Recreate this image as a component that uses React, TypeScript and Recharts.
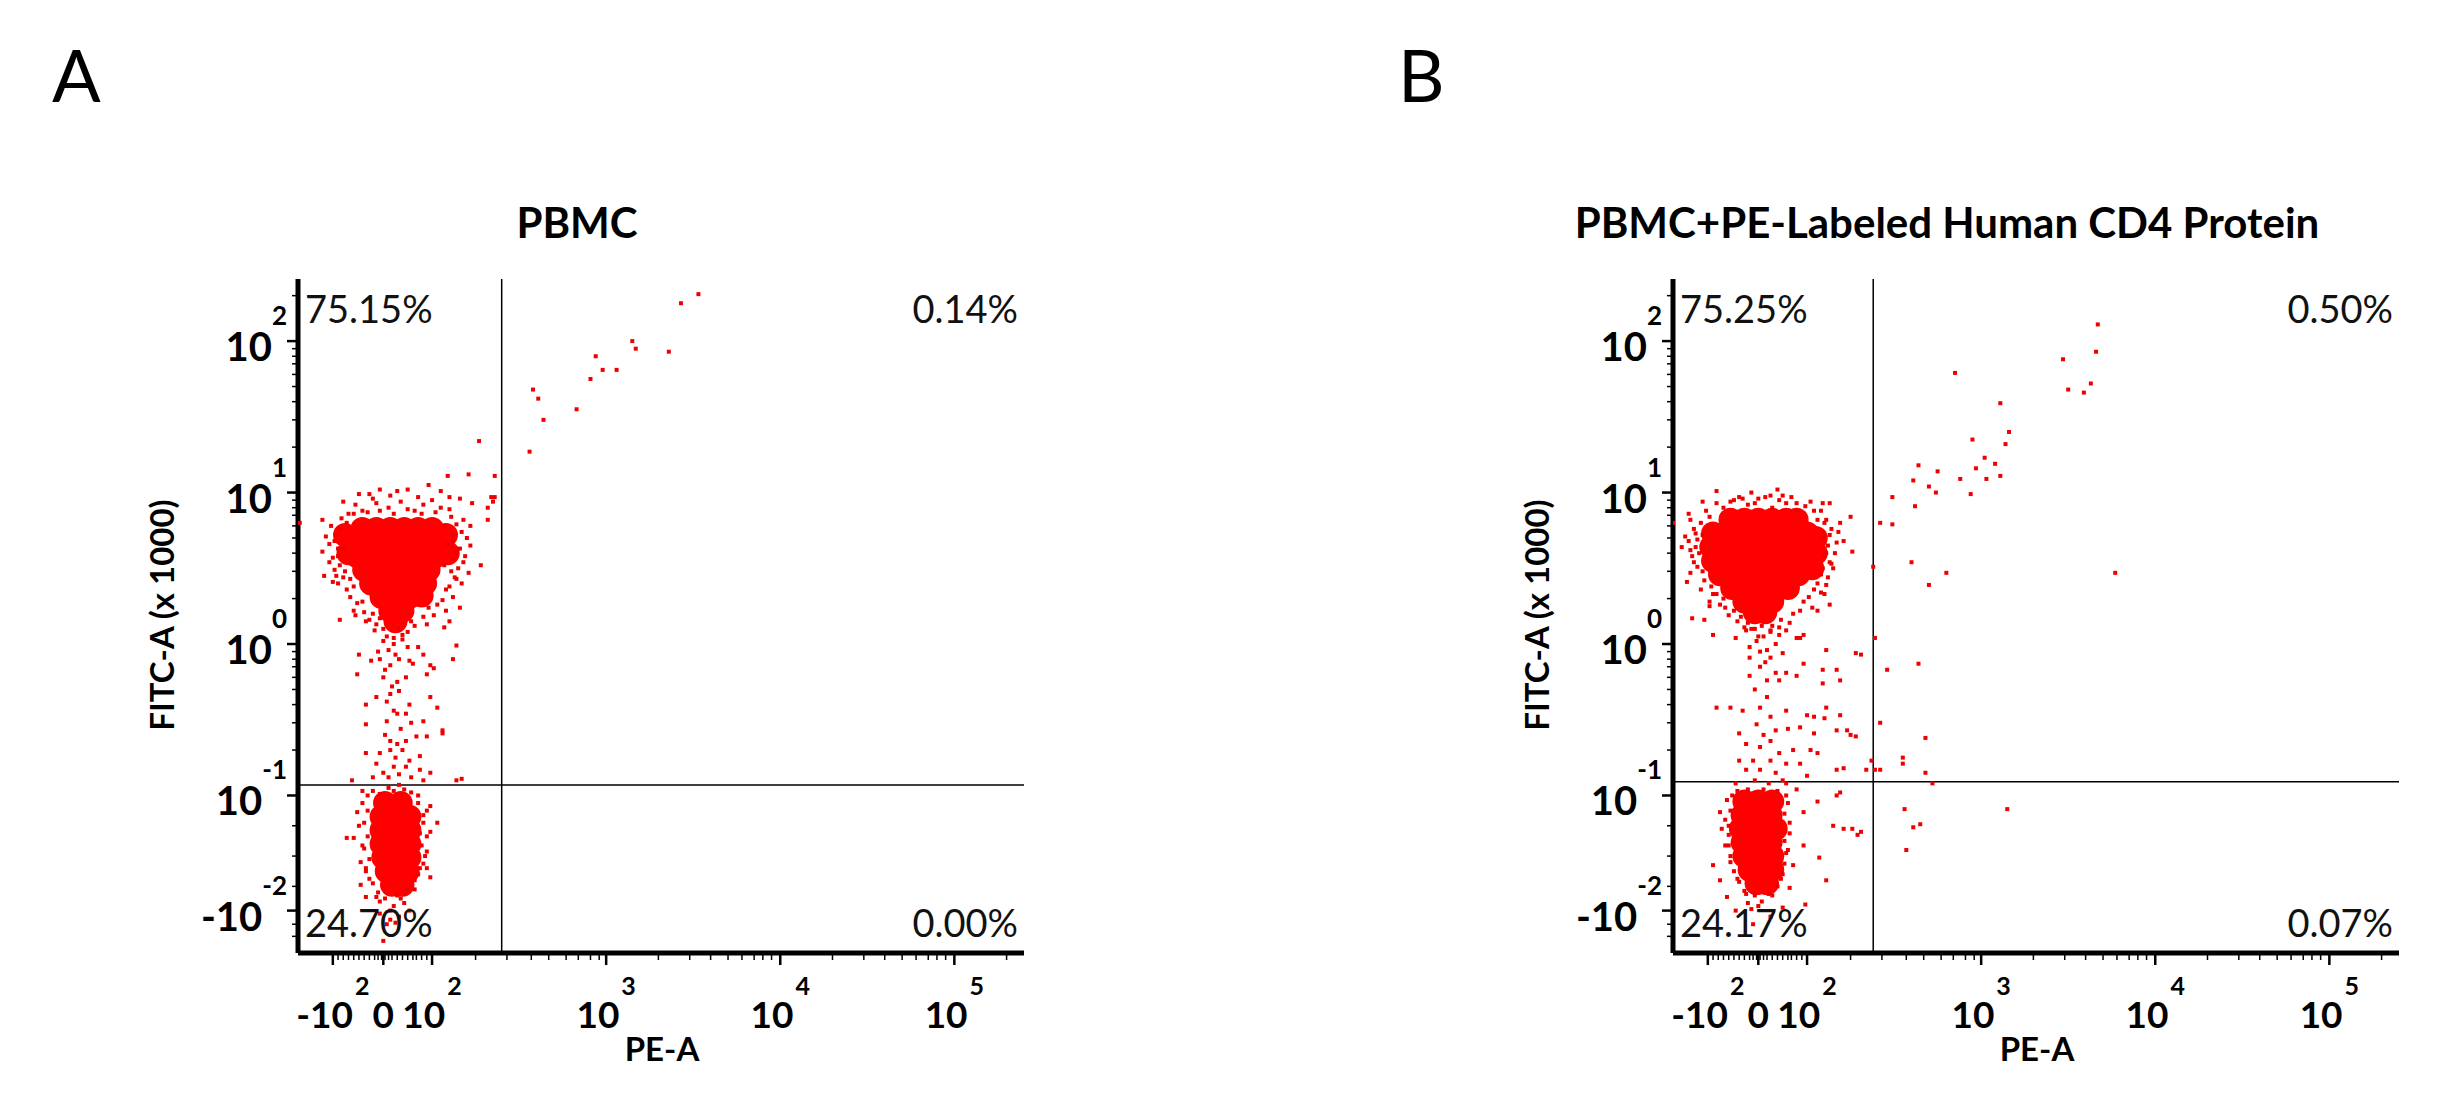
import React from "react";
import { ScatterChart, Scatter, XAxis, YAxis, ReferenceLine } from "recharts";

const FONT = "Lato, 'Open Sans', sans-serif";

// Axis positions are in display units: one unit per decade, with the
// linear (biexponential) region around zero squeezed in below 10^2 / 10^-1.
const xMajorTicks = [1.43, 1.72, 2, 3, 4, 5];
const xMajorLabels = [["-10", "2"], ["0", ""], ["10", "2"], ["10", "3"], ["10", "4"], ["10", "5"]];
const xMinorTicks = [
  1.46, 1.49, 1.52, 1.55, 1.58, 1.61, 1.64, 1.67, 1.69, 1.71, 1.73, 1.75, 1.77, 1.8, 1.83, 1.86, 1.89, 1.91, 1.94, 1.97,
  2.25, 2.43, 2.57, 2.67, 2.77, 2.84, 2.91, 2.96,
  3.3, 3.48, 3.6, 3.7, 3.78, 3.85, 3.9, 3.95,
  4.3, 4.48, 4.6, 4.7, 4.78, 4.85, 4.9, 4.95,
  5.3,
];
const yMajorTicks = [2, 1, 0, -1, -1.76];
const yMajorLabels = [["10", "2"], ["10", "1"], ["10", "0"], ["10", "-1"], ["-10", "-2"]];
const yMinorTicks = [
  2.3,
  1.3, 1.48, 1.6, 1.7, 1.78, 1.85, 1.9, 1.95,
  0.3, 0.48, 0.6, 0.7, 0.78, 0.85, 0.9, 0.95,
  -0.7, -0.52, -0.4, -0.3, -0.22, -0.15, -0.1, -0.05,
  -1.2, -1.4, -1.6, -1.85, -1.93,
];

const panels = ["A", "B"];
const titles = ["PBMC", "PBMC+PE-Labeled Human CD4 Protein"];
// quadrant percentages: upper-left, upper-right, lower-left, lower-right
const quadrantPct = [
  ["75.15%", "0.14%", "24.70%", "0.00%"],
  ["75.25%", "0.50%", "24.17%", "0.07%"],
];
const gateX = [2.4, 2.38];
const gateY = [-0.93, -0.91];

// ---- Panel A events ----
const aUpperCore = [
  [1.6, 0.76], [1.68, 0.76], [1.76, 0.76], [1.84, 0.76], [1.92, 0.76], [2.0, 0.76],
  [1.55, 0.67], [1.63, 0.67], [1.71, 0.67], [1.79, 0.67], [1.87, 0.67], [1.95, 0.67], [2.03, 0.67],
  [1.57, 0.58], [1.65, 0.58], [1.73, 0.58], [1.81, 0.58], [1.89, 0.58], [1.97, 0.58], [2.02, 0.58],
  [1.61, 0.49], [1.69, 0.49], [1.77, 0.49], [1.85, 0.49], [1.93, 0.49], [1.98, 0.49],
  [1.65, 0.4], [1.73, 0.4], [1.81, 0.4], [1.89, 0.4], [1.96, 0.4],
  [1.71, 0.31], [1.79, 0.31], [1.87, 0.31],
  [1.76, 0.22], [1.83, 0.22],
  [1.79, 0.15],
  [2.08, 0.72], [2.09, 0.6], [1.5, 0.72], [1.52, 0.6], [1.94, 0.32],
];
const aLowerCore = [
  [1.73, -1.05], [1.82, -1.05],
  [1.71, -1.14], [1.79, -1.14], [1.87, -1.14],
  [1.71, -1.23], [1.79, -1.23], [1.87, -1.23],
  [1.71, -1.32], [1.79, -1.32], [1.87, -1.32],
  [1.72, -1.41], [1.8, -1.41], [1.87, -1.41],
  [1.74, -1.5], [1.81, -1.5], [1.86, -1.5],
  [1.77, -1.59], [1.83, -1.59],
];
const aDots = [
  // upper right quadrant
  [3.53, 2.31], [3.43, 2.25], [3.15, 2.0], [3.17, 1.95], [3.36, 1.93], [2.94, 1.9], [2.98, 1.81], [3.06, 1.81],
  [2.91, 1.75], [2.58, 1.68], [2.61, 1.62], [2.83, 1.55], [2.64, 1.48], [2.56, 1.27], [2.27, 1.34], [2.36, 1.11],
  [2.21, 1.12], [2.09, 1.11], [2.36, 0.97], [2.32, 0.9],
  // halo of the upper population
  [1.49, 0.94], [1.64, 0.99], [1.7, 1.02], [1.8, 1.01], [1.86, 1.02], [1.98, 1.05], [2.05, 1.01], [2.1, 0.97],
  [2.16, 0.96], [2.23, 0.93], [2.35, 0.94], [2.34, 0.97], [1.37, 0.82], [1.39, 0.71], [1.37, 0.61], [1.38, 0.45],
  [1.43, 0.41], [1.47, 0.16], [1.56, 0.19], [1.62, 0.15], [2.1, 0.89], [2.18, 0.82], [2.22, 0.65], [2.18, 0.54],
  [2.28, 0.52], [2.16, 0.24], [2.14, 0.43], [2.07, 0.11], [2.1, 0.15], [2.22, 0.78], [1.41, 0.54], [1.45, 0.45],
  [2.32, 0.82], [1.24, 0.8],
  [1.52, 0.86], [1.6, 0.88], [1.75, 0.9], [1.9, 0.88], [2.02, 0.87], [2.12, 0.72], [2.13, 0.6], [2.11, 0.48],
  [2.08, 0.36], [2.03, 0.26], [1.95, 0.18], [1.44, 0.68], [1.46, 0.58], [1.5, 0.48], [1.55, 0.38], [1.6, 0.28],
  [1.66, 0.2], [1.72, 0.1], [1.86, 0.08], [1.9, 0.12], [1.56, 0.92], [1.68, 0.93], [1.82, 0.94], [1.95, 0.92],
  [1.47, 0.76], [1.49, 0.63], [2.07, 0.78], [2.09, 0.66], [2.07, 0.52], [1.53, 0.43], [1.98, 0.24], [1.68, 0.13],
  [1.42, 0.78], [1.45, 0.72], [1.41, 0.66], [1.46, 0.63], [1.43, 0.57], [1.47, 0.52], [1.44, 0.49], [1.49, 0.44],
  [1.46, 0.4], [1.51, 0.36], [1.53, 0.31], [1.57, 0.27], [1.55, 0.22], [1.61, 0.21], [1.64, 0.16], [1.67, 0.09],
  [1.48, 0.83], [1.51, 0.8], [2.11, 0.84], [2.14, 0.79], [2.17, 0.74], [2.12, 0.68], [2.16, 0.63], [2.19, 0.58],
  [2.12, 0.56], [2.15, 0.5], [2.13, 0.44], [2.17, 0.4], [2.1, 0.38], [2.12, 0.31], [2.06, 0.29], [2.08, 0.22],
  [2.01, 0.19], [1.97, 0.13], [2.2, 0.7], [2.21, 0.47], [1.55, 0.86], [1.63, 0.87], [1.7, 0.88], [1.78, 0.86],
  [1.86, 0.89], [1.94, 0.86], [2.05, 0.9], [1.66, 0.96], [1.76, 0.98], [1.92, 0.97], [2.0, 0.95], [1.58, 0.99],
  [1.74, 0.05], [1.83, 0.06], [1.78, 0.04], [1.88, 0.15], [1.7, 0.17], [1.81, 0.1],
  // tail between the populations
  [1.58, -0.07], [1.65, -0.11], [1.69, -0.05], [1.76, -0.14], [1.81, -0.1], [1.87, -0.11], [1.89, -0.13], [1.95, -0.07],
  [1.99, -0.14], [2.14, -0.01], [2.12, -0.1], [1.57, -0.2], [1.72, -0.22], [1.8, -0.25], [1.85, -0.22], [1.97, -0.2],
  [2.01, -0.16], [1.68, -0.35], [1.76, -0.33], [1.81, -0.31], [1.87, -0.4], [1.99, -0.35], [2.03, -0.42], [1.62, -0.4],
  [1.78, -0.44], [1.8, -0.46], [1.85, -0.46], [1.74, -0.51], [1.95, -0.51], [1.62, -0.53], [2.06, -0.57], [2.06, -0.59],
  [1.76, -0.64], [1.8, -0.66], [1.85, -0.64], [1.91, -0.61], [1.97, -0.61], [1.7, -0.72], [1.76, -0.7], [1.83, -0.7],
  [1.87, -0.77], [1.93, -0.74], [1.62, -0.72], [1.68, -0.79], [1.78, -0.81], [1.85, -0.81], [1.93, -0.83], [1.72, -0.85],
  [1.81, -0.86], [1.99, -0.85], [2.14, -0.9], [1.54, -0.9], [1.81, -0.93],
  [1.72, 0.02], [1.78, 0.0], [1.83, 0.03], [1.75, -0.04], [1.86, -0.02], [1.7, -0.1], [1.79, -0.07], [1.92, -0.02],
  [1.73, -0.17], [1.77, -0.28], [1.74, -0.38], [1.82, -0.56], [1.88, -0.52], [1.73, -0.6], [1.79, -0.75], [1.75, -0.88],
  [1.88, -0.88], [1.66, -0.88], [1.95, -0.9], [2.17, -0.89],
  // halo of the lower population
  [1.51, -1.28], [1.55, -1.28], [1.57, -1.11], [1.58, -1.2], [1.59, -1.44], [1.59, -1.59], [1.62, -1.67], [1.99, -1.07],
  [2.03, -1.18], [1.99, -1.24], [1.97, -1.37], [1.97, -1.48], [1.99, -1.54], [1.7, -1.78], [1.76, -1.82], [1.81, -1.8],
  [1.72, -1.96], [1.87, -1.76], [1.66, -0.97], [1.75, -0.95], [1.84, -0.96], [1.92, -1.0], [1.6, -1.05], [1.95, -1.13],
  [1.61, -1.35], [1.95, -1.45], [1.64, -1.55], [1.9, -1.62], [1.68, -1.67], [1.84, -1.71], [1.78, -1.73], [1.74, -1.85],
  [1.63, -1.0], [1.93, -1.25], [1.62, -1.48], [1.92, -1.52], [1.7, -1.7], [1.8, -1.66],
  [1.6, -0.97], [1.63, -1.1], [1.61, -1.18], [1.63, -1.27], [1.6, -1.33], [1.64, -1.42], [1.62, -1.5], [1.66, -1.58],
  [1.69, -1.64], [1.73, -1.68], [1.82, -1.68], [1.86, -1.62], [1.9, -1.56], [1.93, -1.48], [1.96, -1.4], [1.94, -1.33],
  [1.97, -1.27], [1.95, -1.18], [1.97, -1.1], [1.92, -1.05], [1.88, -0.98], [1.78, -0.97], [1.7, -0.99], [1.76, -1.76],
  [1.79, -1.84],
];

// ---- Panel B events ----
const bUpperCore = [
  [1.56, 0.82], [1.64, 0.82], [1.72, 0.82], [1.8, 0.82], [1.88, 0.82], [1.94, 0.82],
  [1.46, 0.73], [1.54, 0.73], [1.62, 0.73], [1.7, 0.73], [1.78, 0.73], [1.86, 0.73], [1.94, 0.73], [2.0, 0.73],
  [1.45, 0.64], [1.53, 0.64], [1.61, 0.64], [1.69, 0.64], [1.77, 0.64], [1.85, 0.64], [1.93, 0.64], [2.01, 0.64],
  [1.46, 0.55], [1.54, 0.55], [1.62, 0.55], [1.7, 0.55], [1.78, 0.55], [1.86, 0.55], [1.94, 0.55], [1.99, 0.55],
  [1.5, 0.46], [1.58, 0.46], [1.66, 0.46], [1.74, 0.46], [1.82, 0.46], [1.9, 0.46], [1.95, 0.46],
  [1.57, 0.37], [1.65, 0.37], [1.73, 0.37], [1.81, 0.37], [1.89, 0.37],
  [1.64, 0.28], [1.72, 0.28], [1.8, 0.28],
  [1.7, 0.21], [1.76, 0.21],
  [2.05, 0.7], [2.05, 0.6], [2.03, 0.5],
];
const bLowerCore = [
  [1.64, -1.04], [1.72, -1.04], [1.8, -1.04],
  [1.63, -1.13], [1.71, -1.13], [1.79, -1.13],
  [1.62, -1.22], [1.7, -1.22], [1.78, -1.22], [1.82, -1.22],
  [1.63, -1.31], [1.71, -1.31], [1.79, -1.31],
  [1.64, -1.4], [1.72, -1.4], [1.8, -1.4],
  [1.67, -1.49], [1.75, -1.49], [1.8, -1.49],
  [1.71, -1.58], [1.77, -1.58],
];
const bDots = [
  // events right of the PE gate
  [3.67, 2.11], [3.66, 1.93], [3.47, 1.88], [3.63, 1.72], [3.5, 1.68], [3.59, 1.66], [2.85, 1.79], [3.11, 1.59],
  [3.16, 1.4], [2.95, 1.35], [3.14, 1.32], [3.02, 1.23], [3.08, 1.19], [2.97, 1.16], [2.64, 1.18], [2.75, 1.14],
  [2.61, 1.08], [2.88, 1.09], [3.03, 1.09], [3.11, 1.11], [2.7, 1.04], [2.74, 1.0], [2.94, 0.99], [2.49, 0.97],
  [2.62, 0.91], [2.42, 0.8], [2.49, 0.79], [2.6, 0.54], [2.7, 0.39], [2.8, 0.47], [3.77, 0.47], [2.38, 0.51],
  [2.39, 0.04], [2.31, -0.07], [2.46, -0.17], [2.64, -0.13], [2.42, -0.52], [2.68, -0.62], [2.55, -0.75], [2.55, -0.79],
  [2.37, -0.77], [2.39, -0.83], [2.68, -0.85], [2.72, -0.92], [2.42, -0.83], [2.56, -1.09], [3.15, -1.09], [2.65, -1.19],
  [2.61, -1.21], [2.57, -1.36], [2.26, -1.22], [2.31, -1.24], [2.21, -0.82], [2.28, -0.61], [2.23, -0.57], [2.19, -0.47],
  [2.1, -0.49],
  // tail
  [1.46, 0.06], [1.59, 0.04], [1.65, 0.09], [1.71, 0.02], [1.79, 0.09], [1.84, 0.06], [1.88, 0.09], [1.94, 0.04],
  [1.98, 0.06], [1.67, -0.02], [1.77, -0.04], [1.82, 0.0], [1.86, -0.06], [1.96, 0.04], [2.11, -0.04], [2.28, -0.06],
  [1.67, -0.09], [1.79, -0.09], [1.73, -0.15], [1.82, -0.19], [1.88, -0.19], [1.98, -0.13], [1.67, -0.21], [1.77, -0.24],
  [1.84, -0.24], [1.94, -0.21], [2.09, -0.17], [2.17, -0.17], [2.19, -0.24], [2.09, -0.26], [1.48, -0.42], [1.56, -0.42],
  [1.63, -0.44], [1.73, -0.42], [1.79, -0.48], [1.88, -0.44], [2.0, -0.47], [2.04, -0.48], [2.11, -0.42], [1.71, -0.53],
  [1.82, -0.57], [1.89, -0.56], [1.96, -0.55], [2.04, -0.59], [2.17, -0.57], [2.25, -0.6], [1.61, -0.59], [1.65, -0.66],
  [1.73, -0.68], [1.79, -0.64], [1.84, -0.72], [1.92, -0.7], [2.02, -0.7], [2.06, -0.72], [1.61, -0.77], [1.69, -0.77],
  [1.79, -0.77], [1.88, -0.79], [1.96, -0.79], [2.17, -0.83], [2.34, -0.83], [1.65, -0.83], [1.73, -0.83], [1.82, -0.85],
  [2.0, -0.87], [1.7, 0.1], [1.75, 0.05], [1.8, 0.12], [1.73, -0.05], [1.76, -0.12], [1.7, -0.3], [1.77, -0.35],
  [1.75, -0.6], [1.7, -0.9], [1.78, -0.92], [1.86, -0.9],
  // halo of the upper population
  [1.48, 1.01], [1.4, 0.94], [1.32, 0.86], [1.28, 0.64], [1.31, 0.41], [1.34, 0.17], [1.41, 0.16], [1.23, 0.8],
  [1.61, 0.97], [1.79, 0.98], [1.86, 0.98], [1.94, 0.93], [2.02, 0.94], [2.13, 0.93], [2.19, 0.8], [2.25, 0.84],
  [2.11, 0.82], [2.17, 0.67], [2.26, 0.61], [2.13, 0.54], [2.15, 0.5], [2.11, 0.39], [2.13, 0.26], [2.06, 0.22],
  [1.44, 0.28], [1.53, 0.24], [1.37, 0.69], [1.35, 0.54],
  [1.44, 0.84], [1.52, 0.9], [1.66, 0.92], [1.8, 0.9], [1.94, 0.88], [2.06, 0.82], [2.09, 0.7], [2.1, 0.58],
  [2.08, 0.46], [2.04, 0.36], [1.98, 0.28], [1.4, 0.72], [1.38, 0.6], [1.4, 0.48], [1.45, 0.38], [1.52, 0.3],
  [1.58, 0.22], [1.66, 0.14], [1.85, 0.16], [1.92, 0.2], [1.58, 0.95], [1.72, 0.96], [1.88, 0.93], [2.04, 0.88],
  [1.35, 0.76], [1.33, 0.62], [2.13, 0.72], [2.1, 0.33], [1.48, 0.33], [1.62, 0.18],
  [1.33, 0.82], [1.36, 0.73], [1.32, 0.68], [1.36, 0.64], [1.34, 0.58], [1.37, 0.51], [1.33, 0.47], [1.41, 0.42],
  [1.39, 0.36], [1.46, 0.33], [1.44, 0.25], [1.5, 0.26], [1.55, 0.19], [1.6, 0.15], [1.64, 0.11], [1.39, 0.8],
  [1.42, 0.88], [1.3, 0.71], [2.08, 0.88], [2.1, 0.8], [2.14, 0.76], [2.09, 0.74], [2.12, 0.65], [2.16, 0.6],
  [2.11, 0.6], [2.14, 0.53], [2.09, 0.5], [2.12, 0.44], [2.06, 0.4], [2.08, 0.34], [2.01, 0.31], [2.03, 0.24],
  [1.96, 0.22], [1.9, 0.14], [2.18, 0.74], [2.21, 0.68], [1.48, 0.93], [1.56, 0.94], [1.63, 0.96], [1.7, 0.93],
  [1.76, 0.97], [1.84, 0.95], [1.91, 0.97], [1.99, 0.91], [2.09, 0.93], [1.68, 1.0], [1.83, 1.02], [1.68, 0.1],
  [1.74, 0.12], [1.79, 0.08], [1.72, 0.05], [1.84, 0.11],
  // halo of the lower population
  [1.5, -1.11], [1.46, -1.46], [1.5, -1.56], [1.54, -1.67], [1.59, -1.76], [1.69, -1.85], [1.79, -1.8], [1.86, -1.74],
  [1.99, -1.72], [2.11, -1.56], [2.07, -1.41], [1.98, -1.33], [2.15, -1.2], [2.21, -1.22], [2.29, -1.26], [2.06, -1.04],
  [1.98, -1.11], [1.92, -1.46], [1.9, -1.61], [1.55, -1.33], [1.51, -1.22], [2.17, -1.0], [2.19, -0.98], [1.59, -0.92],
  [1.88, -0.92], [1.94, -0.96], [1.57, -1.0], [1.89, -1.05], [1.55, -1.2], [1.9, -1.25], [1.56, -1.4], [1.88, -1.38],
  [1.6, -1.55], [1.85, -1.55], [1.65, -1.65], [1.8, -1.66], [1.74, -1.7], [1.68, -1.75],
  [1.54, -1.03], [1.56, -1.1], [1.53, -1.16], [1.55, -1.26], [1.53, -1.33], [1.56, -1.44], [1.58, -1.5], [1.61, -1.57],
  [1.64, -1.63], [1.7, -1.66], [1.78, -1.65], [1.83, -1.6], [1.86, -1.52], [1.87, -1.45], [1.89, -1.36], [1.87, -1.3],
  [1.9, -1.18], [1.87, -1.12], [1.88, -1.0], [1.83, -0.97], [1.75, -0.96], [1.66, -0.96], [1.6, -0.97], [1.72, -1.73],
  [1.66, -1.71],
];

const cores = [[aUpperCore, aLowerCore], [bUpperCore, bLowerCore]];
const dots = [aDots, bDots];

const toPoints = (list: number[][]) => list.map(([x, y]) => ({ x, y }));

const xTicks = [...xMajorTicks, ...xMinorTicks];
const yTicks = [...yMajorTicks, ...yMinorTicks];

function XTick(props: any) {
  const { x, y, payload } = props;
  const i = xMajorTicks.indexOf(payload.value);
  const major = i >= 0;
  return (
    <g>
      <line x1={x} y1={y} x2={x} y2={y + (major ? 12 : 7)} stroke="#000" strokeWidth={major ? 2.5 : 1.5} />
      {major && (
        <text x={x} y={y + 75} textAnchor="middle" fontFamily={FONT} fontWeight={700} fill="#000">
          <tspan fontSize={37}>{xMajorLabels[i][0]}</tspan>
          {xMajorLabels[i][1] !== "" && (
            <tspan fontSize={25} dy={-33} dx={2}>
              {xMajorLabels[i][1]}
            </tspan>
          )}
        </text>
      )}
    </g>
  );
}

function YTick(props: any) {
  const { x, y, payload } = props;
  const i = yMajorTicks.indexOf(payload.value);
  const major = i >= 0;
  return (
    <g>
      <line x1={x} y1={y} x2={x - (major ? 11 : 6)} y2={y} stroke="#000" strokeWidth={major ? 2.5 : 1.5} />
      {major && (
        <text x={x - 11} y={y + 20} textAnchor="end" fontFamily={FONT} fontWeight={700} fill="#000">
          <tspan fontSize={40}>{yMajorLabels[i][0]}</tspan>
          <tspan fontSize={26} dy={-36}>
            {yMajorLabels[i][1]}
          </tspan>
        </text>
      )}
    </g>
  );
}

const EventDot = (p: any) => <rect x={p.cx - 2} y={p.cy - 2} width={4} height={4} fill="#ee0000" />;
const CoreDot = (p: any) => <circle cx={p.cx} cy={p.cy} r={12} fill="#ff0000" />;

const PANEL_OFFSET = [0, 1375];
const LETTER_X = [52, 1398];
const TITLE_X = [577, 1947];

function DotPlot({ idx }: { idx: number }) {
  return (
    <div style={{ position: "absolute", left: PANEL_OFFSET[idx], top: 0 }}>
      <ScatterChart width={1070} height={1116} margin={{ top: 279, right: 46, bottom: 63, left: 198 }}>
        <XAxis
          type="number"
          dataKey="x"
          domain={[1.23, 5.4]}
          allowDataOverflow
          ticks={xTicks}
          interval={0}
          tick={XTick}
          tickLine={false}
          tickSize={0}
          tickMargin={0}
          height={100}
          axisLine={{ stroke: "#000", strokeWidth: 5 }}
        />
        <YAxis
          type="number"
          dataKey="y"
          domain={[-2.04, 2.41]}
          allowDataOverflow
          ticks={yTicks}
          interval={0}
          tick={YTick}
          tickLine={false}
          tickSize={0}
          tickMargin={0}
          width={100}
          axisLine={{ stroke: "#000", strokeWidth: 5 }}
        />
        <Scatter data={toPoints(cores[idx][0])} shape={CoreDot} isAnimationActive={false} />
        <Scatter data={toPoints(cores[idx][1])} shape={CoreDot} isAnimationActive={false} />
        <Scatter data={toPoints(dots[idx])} shape={EventDot} isAnimationActive={false} />
        <ReferenceLine x={gateX[idx]} stroke="#000" strokeWidth={1.5} />
        <ReferenceLine y={gateY[idx]} stroke="#000" strokeWidth={1.5} />
      </ScatterChart>
    </div>
  );
}

function PanelText({ idx }: { idx: number }) {
  const ox = PANEL_OFFSET[idx];
  const pct = quadrantPct[idx];
  const pctStyle = { fontFamily: FONT, fontSize: 38, fill: "#111" };
  return (
    <g>
      <text x={LETTER_X[idx]} y={102} fontFamily={FONT} fontSize={72} fill="#000">
        {panels[idx]}
      </text>
      <text x={TITLE_X[idx]} y={238} textAnchor="middle" fontFamily={FONT} fontWeight={700} fontSize={42} fill="#000">
        {titles[idx]}
      </text>
      <text x={ox + 305} y={323} {...pctStyle}>{pct[0]}</text>
      <text x={ox + 1018} y={323} textAnchor="end" {...pctStyle}>{pct[1]}</text>
      <text x={ox + 305} y={937} {...pctStyle}>{pct[2]}</text>
      <text x={ox + 1018} y={937} textAnchor="end" {...pctStyle}>{pct[3]}</text>
      <text x={ox + 662} y={1061} textAnchor="middle" fontFamily={FONT} fontWeight={700} fontSize={33} fill="#000">
        PE-A
      </text>
      <text
        transform={`translate(${ox + 174}, 615) rotate(-90)`}
        textAnchor="middle"
        fontFamily={FONT}
        fontWeight={700}
        fontSize={33}
        fill="#000"
      >
        FITC-A (x 1000)
      </text>
    </g>
  );
}

export default function App() {
  return (
    <div style={{ position: "absolute", left: 0, top: 0, width: 2449, height: 1116, background: "#fff", overflow: "hidden" }}>
      <DotPlot idx={0} />
      <DotPlot idx={1} />
      <svg width={2449} height={1116} style={{ position: "absolute", left: 0, top: 0, pointerEvents: "none" }}>
        <PanelText idx={0} />
        <PanelText idx={1} />
      </svg>
    </div>
  );
}
